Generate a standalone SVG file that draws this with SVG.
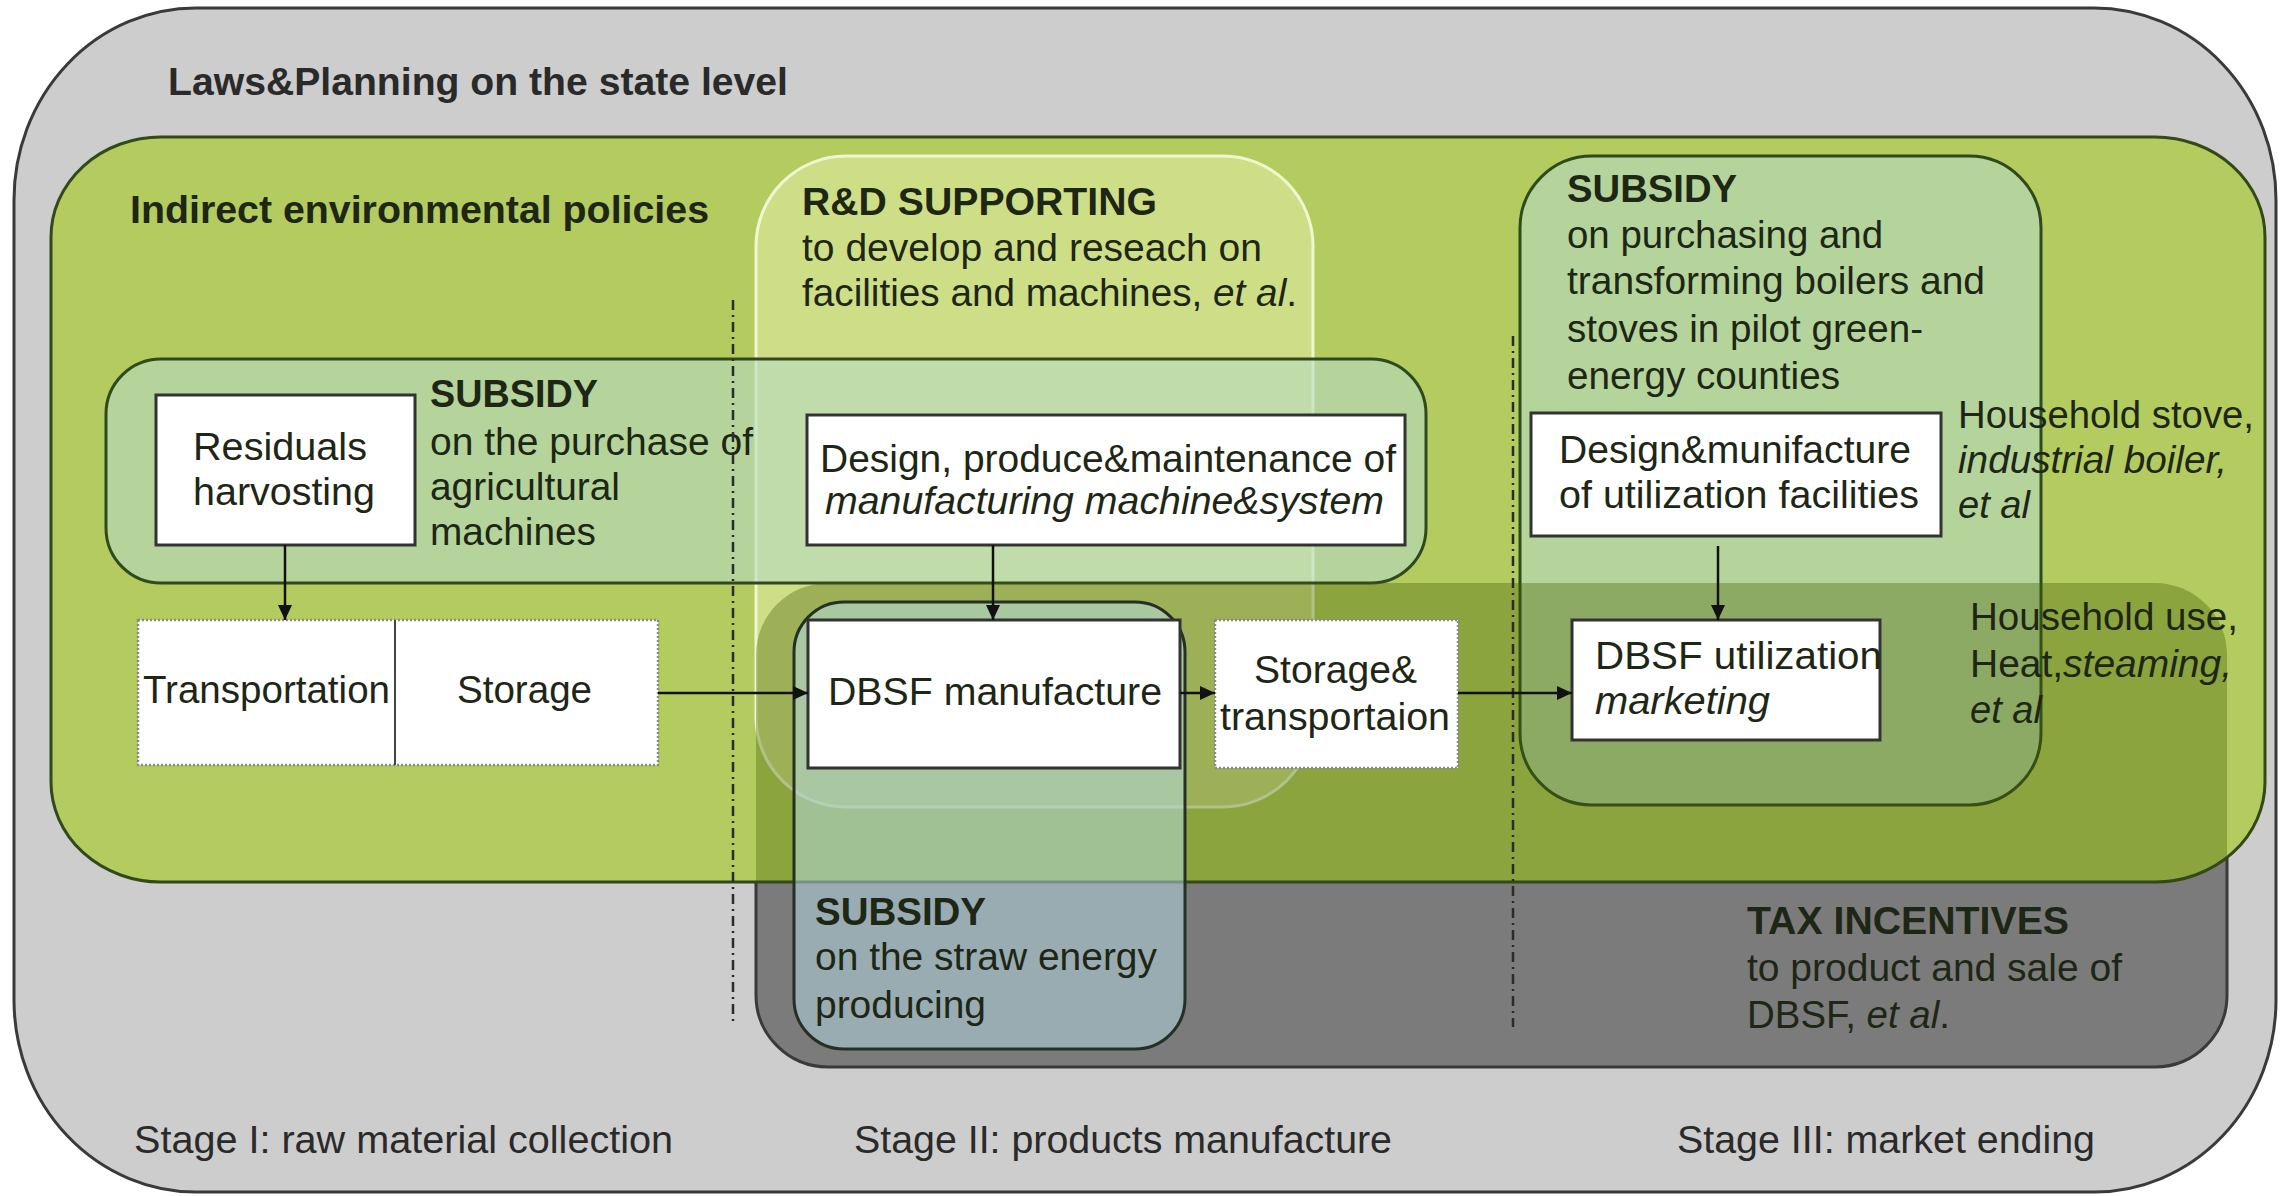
<svg xmlns="http://www.w3.org/2000/svg" width="2285" height="1196" viewBox="0 0 2285 1196">
<style>
.t{font-family:"Liberation Sans",Arial,Helvetica,sans-serif;font-size:38px;fill:#1e2616}
.g{fill:#2a2a2a}
.b{font-weight:bold}
.i{font-style:italic}
.wb{fill:#ffffff;stroke:#333333;stroke-width:3}
.wd{fill:#ffffff;stroke:#8a8a8a;stroke-width:2.5;stroke-dasharray:2 2}
.sub{fill:#b6dac3;fill-opacity:0.6;stroke:#2f4a1c;stroke-width:3}
.sep{fill:none;stroke:#2b2b2b;stroke-width:2.5;stroke-dasharray:10 5 2 5}
.con{fill:none;stroke:#111111;stroke-width:2.5}
</style>
<defs>
<marker id="ah" markerUnits="userSpaceOnUse" markerWidth="16" markerHeight="14" refX="15" refY="7" orient="auto">
<path d="M0,0 L15,7 L0,14 z" fill="#111111"/>
</marker>
<clipPath id="cg"><rect x="51" y="137" width="2214" height="745" rx="110" ry="100"/></clipPath>
</defs>

<g id="laws-planning">
<rect x="14" y="8" width="2262" height="1184" rx="182" ry="192" fill="#cdcdcd" stroke="#3a3a3a" stroke-width="3"/>
<text class="t b g" x="168" y="95" textLength="620" lengthAdjust="spacingAndGlyphs">Laws&amp;Planning on the state level</text>
</g>

<g id="tax-incentives-box">
<rect x="756" y="583" width="1471" height="484" rx="72" ry="72" fill="#7b7b7b" stroke="#3a3a3a" stroke-width="3"/>
</g>

<g id="indirect-policies">
<rect x="51" y="137" width="2214" height="745" rx="110" ry="100" fill="#b3cb5f"/>
<text class="t b" x="130" y="223" textLength="579" lengthAdjust="spacingAndGlyphs">Indirect environmental policies</text>
</g>

<g id="rd-supporting">
<rect x="756" y="156" width="557" height="651" rx="90" ry="90" fill="#e4efa6" fill-opacity="0.55" stroke="#eef7d0" stroke-width="3"/>
<text class="t b" x="802" y="215" textLength="355" lengthAdjust="spacingAndGlyphs">R&amp;D SUPPORTING</text>
<text class="t" x="802" y="261" textLength="460" lengthAdjust="spacingAndGlyphs">to develop and reseach on</text>
<text class="t" x="802" y="306" textLength="495" lengthAdjust="spacingAndGlyphs">facilities and machines, <tspan class="i">et al</tspan>.</text>
</g>

<g id="subsidy-agri">
<rect class="sub" x="106" y="359" width="1320" height="224" rx="55" ry="55"/>
<text class="t b" x="430" y="407" textLength="168" lengthAdjust="spacingAndGlyphs">SUBSIDY</text>
<text class="t" x="430" y="455" textLength="323" lengthAdjust="spacingAndGlyphs">on the purchase of</text>
<text class="t" x="430" y="500" textLength="190" lengthAdjust="spacingAndGlyphs">agricultural</text>
<text class="t" x="430" y="545" textLength="166" lengthAdjust="spacingAndGlyphs">machines</text>
</g>

<g id="subsidy-utilization">
<rect class="sub" x="1520" y="156" width="521" height="649" rx="72" ry="72"/>
<text class="t b" x="1567" y="202" textLength="170" lengthAdjust="spacingAndGlyphs">SUBSIDY</text>
<text class="t" x="1567" y="248" textLength="316" lengthAdjust="spacingAndGlyphs">on purchasing and</text>
<text class="t" x="1567" y="294" textLength="418" lengthAdjust="spacingAndGlyphs">transforming boilers and</text>
<text class="t" x="1567" y="342" textLength="356" lengthAdjust="spacingAndGlyphs">stoves in pilot green-</text>
<text class="t" x="1567" y="389" textLength="273" lengthAdjust="spacingAndGlyphs">energy counties</text>
</g>

<g id="tax-overlap">
<rect x="756" y="583" width="1471" height="484" rx="72" ry="72" fill="#435b00" fill-opacity="0.35" clip-path="url(#cg)"/>
</g>

<g id="indirect-policies-border">
<rect x="51" y="137" width="2214" height="745" rx="110" ry="100" fill="none" stroke="#33491a" stroke-width="3"/>
</g>

<g id="subsidy-straw">
<rect x="794" y="602" width="391" height="447" rx="50" ry="50" fill="#b6deea" fill-opacity="0.5" stroke="#243024" stroke-width="3"/>
<text class="t b" x="815" y="925" textLength="171" lengthAdjust="spacingAndGlyphs">SUBSIDY</text>
<text class="t" x="815" y="970" textLength="342" lengthAdjust="spacingAndGlyphs">on the straw energy</text>
<text class="t" x="815" y="1018" textLength="171" lengthAdjust="spacingAndGlyphs">producing</text>
</g>

<g id="tax-incentives-text">
<text class="t b" x="1747" y="934" textLength="322" lengthAdjust="spacingAndGlyphs">TAX INCENTIVES</text>
<text class="t" x="1747" y="981" textLength="375" lengthAdjust="spacingAndGlyphs">to product and sale of</text>
<text class="t" x="1747" y="1028" textLength="203" lengthAdjust="spacingAndGlyphs">DBSF, <tspan class="i">et al</tspan>.</text>
</g>

<g id="stage-separators">
<line class="sep" x1="733" y1="300" x2="733" y2="1023"/>
<line class="sep" x1="1513" y1="336" x2="1513" y2="1027"/>
</g>

<g id="residuals-harvesting">
<rect class="wb" x="156" y="395" width="259" height="150"/>
<text class="t" x="193" y="460" textLength="174" lengthAdjust="spacingAndGlyphs" fill="#2a2a2a">Residuals</text>
<text class="t" x="193" y="505" textLength="182" lengthAdjust="spacingAndGlyphs" fill="#2a2a2a">harvosting</text>
</g>

<g id="transportation-storage">
<rect class="wd" x="138" y="620" width="520" height="145"/>
<line x1="395" y1="620" x2="395" y2="765" stroke="#444444" stroke-width="2"/>
<text class="t" x="143" y="703" textLength="247" lengthAdjust="spacingAndGlyphs" fill="#2a2a2a">Transportation</text>
<text class="t" x="457" y="703" textLength="135" lengthAdjust="spacingAndGlyphs" fill="#2a2a2a">Storage</text>
</g>

<g id="design-produce">
<rect class="wb" x="807" y="415" width="598" height="130"/>
<text class="t" x="820" y="472" textLength="576" lengthAdjust="spacingAndGlyphs" fill="#2a2a2a">Design, produce&amp;maintenance of</text>
<text class="t i" x="825" y="514" textLength="559" lengthAdjust="spacingAndGlyphs" fill="#2a2a2a">manufacturing machine&amp;system</text>
</g>

<g id="dbsf-manufacture">
<rect class="wb" x="808" y="620" width="372" height="148"/>
<text class="t" x="828" y="705" textLength="334" lengthAdjust="spacingAndGlyphs" fill="#2a2a2a">DBSF manufacture</text>
</g>

<g id="storage-transportation">
<rect class="wd" x="1215" y="620" width="243" height="148"/>
<text class="t" x="1254" y="683" textLength="163" lengthAdjust="spacingAndGlyphs" fill="#2a2a2a">Storage&amp;</text>
<text class="t" x="1220" y="730" textLength="230" lengthAdjust="spacingAndGlyphs" fill="#2a2a2a">transportaion</text>
</g>

<g id="design-munifacture">
<rect class="wb" x="1531" y="413" width="410" height="123"/>
<text class="t" x="1559" y="463" textLength="352" lengthAdjust="spacingAndGlyphs" fill="#2a2a2a">Design&amp;munifacture</text>
<text class="t" x="1559" y="508" textLength="360" lengthAdjust="spacingAndGlyphs" fill="#2a2a2a">of utilization facilities</text>
</g>

<g id="dbsf-utilization">
<rect class="wb" x="1572" y="620" width="308" height="120"/>
<text class="t" x="1595" y="669" textLength="287" lengthAdjust="spacingAndGlyphs" fill="#2a2a2a">DBSF utilization</text>
<text class="t i" x="1595" y="714" textLength="175" lengthAdjust="spacingAndGlyphs" fill="#2a2a2a">marketing</text>
</g>

<g id="facilities-examples">
<text class="t" x="1958" y="428" textLength="296" lengthAdjust="spacingAndGlyphs">Household stove,</text>
<text class="t i" x="1958" y="473" textLength="269" lengthAdjust="spacingAndGlyphs">industrial boiler,</text>
<text class="t i" x="1958" y="518" textLength="72" lengthAdjust="spacingAndGlyphs">et al</text>
</g>

<g id="use-examples">
<text class="t" x="1970" y="630" textLength="268" lengthAdjust="spacingAndGlyphs">Household use,</text>
<text class="t" x="1970" y="677" textLength="262" lengthAdjust="spacingAndGlyphs">Heat,<tspan class="i">steaming,</tspan></text>
<text class="t i" x="1970" y="723" textLength="72" lengthAdjust="spacingAndGlyphs">et al</text>
</g>

<g id="stages">
<text class="t g" x="134" y="1153" textLength="539" lengthAdjust="spacingAndGlyphs">Stage I: raw material collection</text>
<text class="t g" x="854" y="1153" textLength="538" lengthAdjust="spacingAndGlyphs">Stage II: products manufacture</text>
<text class="t g" x="1677" y="1153" textLength="418" lengthAdjust="spacingAndGlyphs">Stage III: market ending</text>
</g>

<g id="connectors">
<line class="con" x1="285" y1="545" x2="285" y2="620" marker-end="url(#ah)"/>
<line class="con" x1="658" y1="693" x2="808" y2="693" marker-end="url(#ah)"/>
<line class="con" x1="993" y1="545" x2="993" y2="620" marker-end="url(#ah)"/>
<line class="con" x1="1180" y1="693" x2="1215" y2="693" marker-end="url(#ah)"/>
<line class="con" x1="1458" y1="693" x2="1572" y2="693" marker-end="url(#ah)"/>
<line class="con" x1="1718" y1="546" x2="1718" y2="620" marker-end="url(#ah)"/>
</g>
</svg>
